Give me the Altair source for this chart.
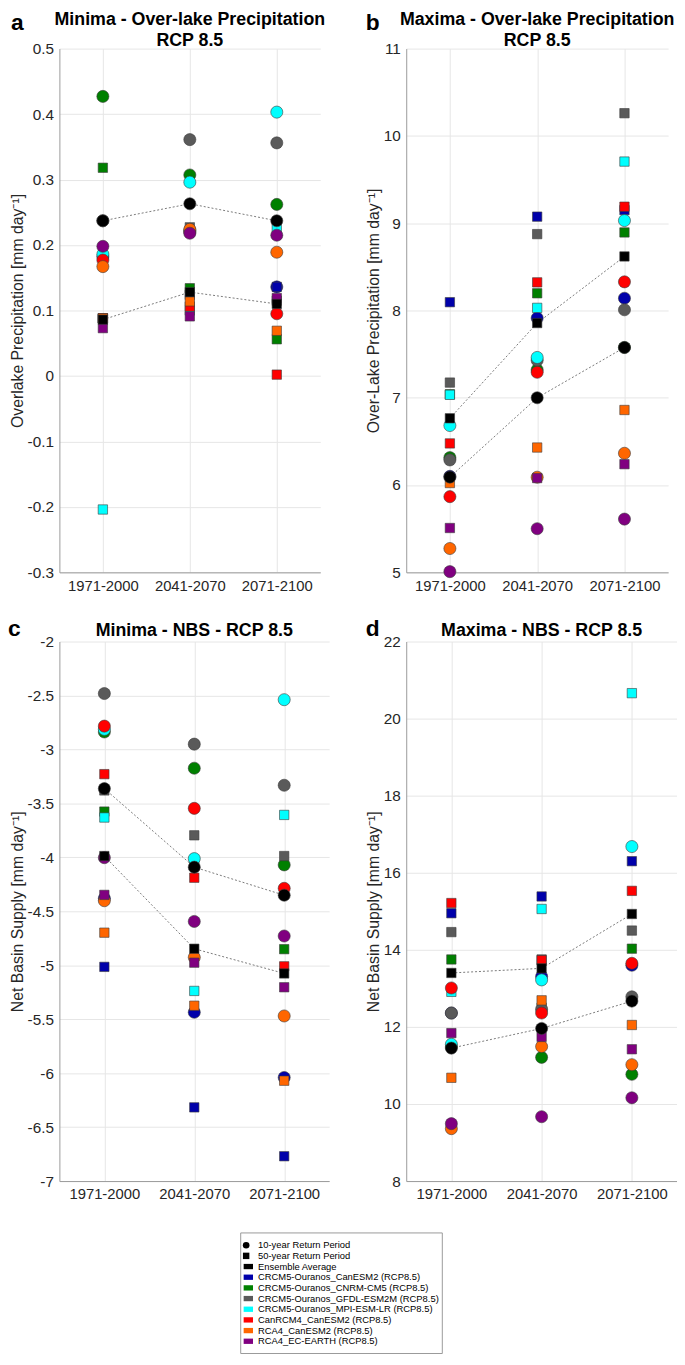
import altair as alt
import pandas as pd

FONT = "Liberation Sans"

PERIODS = ["1971-2000", "2041-2070", "2071-2100"]
MODELS = [
    "CRCM5-Ouranos_CanESM2 (RCP8.5)",
    "CRCM5-Ouranos_CNRM-CM5 (RCP8.5)",
    "CRCM5-Ouranos_GFDL-ESM2M (RCP8.5)",
    "CRCM5-Ouranos_MPI-ESM-LR (RCP8.5)",
    "CanRCM4_CanESM2 (RCP8.5)",
    "RCA4_CanESM2 (RCP8.5)",
    "RCA4_EC-EARTH (RCP8.5)",
]
ENSEMBLE = "Ensemble Average"
SERIES = MODELS + [ENSEMBLE]
COLORS = ["#0000AA", "#008000", "#5A5A5A", "#00FFFF", "#FF0000", "#FF6600", "#800080", "#000000"]
RP = ["10-year Return Period", "50-year Return Period"]

# values per series (order of SERIES), for the three periods
# a: Minima - Over-lake Precipitation
A_10 = [[0.182, 0.222, 0.136], [0.427, 0.307, 0.262], [0.237, 0.361, 0.356], [0.186, 0.296, 0.403],
        [0.177, 0.220, 0.095], [0.167, 0.224, 0.189], [0.198, 0.218, 0.215], [0.237, 0.263, 0.237]]
A_50 = [[0.088, 0.124, 0.136], [0.318, 0.134, 0.056], [0.088, 0.227, 0.115], [-0.204, 0.100, 0.226],
        [0.088, 0.106, 0.002], [0.088, 0.114, 0.069], [0.073, 0.091, 0.119], [0.086, 0.128, 0.110]]
# b: Maxima - Over-lake Precipitation
B_10 = [[6.10, 7.913, 8.14], [6.314, 7.32, 7.576], [6.288, 7.43, 8.008], [6.682, 7.462, 9.03],
        [5.867, 7.292, 8.328], [5.273, 6.09, 6.364], [5.008, 5.50, 5.61], [6.091, 7.00, 7.576]]
B_50 = [[8.095, 9.075, 9.15], [7.04, 8.197, 8.894], [7.174, 8.875, 10.26], [7.034, 8.030, 9.706],
        [6.477, 8.322, 9.189], [6.023, 6.43, 6.86], [5.508, 6.08, 6.239], [6.765, 7.856, 8.619]]
# c: Minima - NBS
C_10 = [[-4.38, -5.436, -6.04], [-2.838, -3.174, -4.07], [-2.482, -2.951, -3.332], [-2.814, -4.012, -2.539],
        [-2.784, -3.546, -4.287], [-4.402, -4.927, -5.47], [-4.003, -4.594, -4.729], [-3.363, -4.091, -4.351]]
C_50 = [[-5.015, -6.317, -6.77], [-3.576, -4.04, -4.851], [-3.38, -3.796, -3.988], [-3.631, -5.238, -3.607],
        [-3.229, -4.189, -5.01], [-4.698, -5.375, -6.07], [-4.348, -4.976, -5.204], [-3.988, -4.847, -5.076]]
# d: Maxima - NBS
D_10 = [[12.36, 13.31, 13.60], [11.48, 11.21, 10.77], [12.36, 12.46, 12.78], [11.55, 13.22, 16.68],
        [13.01, 12.36, 13.65], [9.36, 11.49, 11.02], [9.49, 9.67, 10.16], [11.45, 11.96, 12.67]]
D_50 = [[14.95, 15.385, 16.30], [13.75, 12.50, 14.03], [14.46, 13.75, 14.50], [12.91, 15.06, 20.66],
        [15.214, 13.73, 15.53], [10.68, 12.69, 12.05], [11.84, 11.74, 11.42], [13.40, 13.52, 14.93]]

LEG_ITEMS = RP + SERIES[-1:] + MODELS
LEG_KIND = ["circle", "square"] + ["swatch"] * 8
LEG_KEY = [ENSEMBLE, ENSEMBLE, ENSEMBLE] + MODELS


def build_df(v10, v50):
    rows = []
    k = 0
    for i, s in enumerate(SERIES):
        for rp, vals in ((RP[0], v10[i]), (RP[1], v50[i])):
            for p, v in zip(PERIODS, vals):
                rows.append({"series": s, "rp": rp, "period": p, "value": v, "order": k})
                k += 1
    return pd.DataFrame(rows)


def text_layer(txt, size, dx, dy, align):
    return alt.Chart(pd.DataFrame({"t": [txt]})).mark_text(
        fontSize=size, fontWeight="bold", font=FONT, align=align, baseline="alphabetic", color="#000"
    ).encode(text="t:N", x=alt.value(dx), y=alt.value(dy))


def panel(v10, v50, titles, letter, ytitle, domain, ticks, fmt, w, h, ldx, ldy, tdy):
    df = build_df(v10, v50)
    x = alt.X("period:N", sort=PERIODS, scale=alt.Scale(type="point", padding=0.5),
              axis=alt.Axis(title=None, labelAngle=0, grid=True, labelFontSize=15))
    y = alt.Y("value:Q", scale=alt.Scale(domain=domain, nice=False, zero=False),
              axis=alt.Axis(title=ytitle, values=ticks, format=fmt, grid=True, labelFontSize=15.5,
                            labelExpr="replace(datum.label, '\u2212', '-')"))
    lines = alt.Chart(df).transform_filter(alt.datum.series == ENSEMBLE).mark_line(
        strokeDash=[2, 2], color="#7a7a7a", strokeWidth=1
    ).encode(x=x, y=y, detail="rp:N")
    pts = alt.Chart(df).mark_point(filled=True, opacity=1, stroke="#3c3c3c", strokeWidth=0.6).encode(
        x=x, y=y,
        color=alt.Color("series:N", scale=alt.Scale(domain=SERIES, range=COLORS), legend=None),
        shape=alt.Shape("rp:N", scale=alt.Scale(domain=RP, range=["circle", "square"]), legend=None),
        size=alt.Size("rp:N", scale=alt.Scale(domain=RP, range=[150, 90]), legend=None),
        order=alt.Order("order:Q"),
    )
    layers = [lines, pts, text_layer(letter, 23, ldx, ldy, "left")]
    for t, dy in zip(titles, tdy):
        layers.append(text_layer(t, 18, w / 2, dy, "center"))
    return alt.layer(*layers).properties(width=w, height=h)


YT = "[mm day\u207b\u00b9]"
pa = panel(A_10, A_50, ["Minima - Over-lake Precipitation", "RCP 8.5"], "a",
           "Overlake Precipitation " + YT, [-0.3, 0.5],
           [-0.3, -0.2, -0.1, 0, 0.1, 0.2, 0.3, 0.4, 0.5], ".1~f", 264, 530, -49, -19, [-23.5, -3])
pb = panel(B_10, B_50, ["Maxima - Over-lake Precipitation", "RCP 8.5"], "b",
           "Over-Lake Precipitation " + YT, [5, 11],
           [5, 6, 7, 8, 9, 10, 11], "d", 265, 530, -41, -19, [-23.5, -3])
pc = panel(C_10, C_50, ["Minima - NBS - RCP 8.5"], "c",
           "Net Basin Supply " + YT, [-7, -2],
           [-7, -6.5, -6, -5.5, -5, -4.5, -4, -3.5, -3, -2.5, -2], ".1~f", 273, 546, -52, -6, [-6])
pd_ = panel(D_10, D_50, ["Maxima - NBS - RCP 8.5"], "d",
            "Net Basin Supply " + YT, [8, 22],
            [8, 10, 12, 14, 16, 18, 20, 22], "d", 274, 546, -41, -6, [-6])

ldf = pd.DataFrame({"item": LEG_ITEMS, "kind": LEG_KIND, "key": LEG_KEY})
ly = alt.Y("item:N", sort=LEG_ITEMS, axis=None, scale=alt.Scale(type="point", range=[7.5, 115.5]))
leg_sym = alt.Chart(ldf).mark_point(filled=True, opacity=1, strokeWidth=0).encode(
    x=alt.value(6), y=ly,
    color=alt.Color("key:N", scale=alt.Scale(domain=SERIES, range=COLORS), legend=None),
    shape=alt.Shape("kind:N", scale=alt.Scale(domain=["circle", "square", "swatch"],
                                              range=["circle", "square", "M-0.8,-0.85H2.2V0.85H-0.8Z"]), legend=None),
    size=alt.Size("kind:N", scale=alt.Scale(domain=["circle", "square", "swatch"], range=[45, 40, 100]), legend=None),
)
leg_txt = alt.Chart(ldf).mark_text(align="left", baseline="middle", fontSize=9.5, font=FONT, color="#000").encode(
    x=alt.value(18), y=ly, text="item:N"
)
legend = alt.layer(leg_sym, leg_txt).properties(
    width=204, height=122, view=alt.ViewBackground(stroke="#999999", strokeWidth=1, fill="white")
)
spacer = alt.Chart(pd.DataFrame({"v": [0]})).mark_point(opacity=0).encode(
    x=alt.X("v:Q", axis=None), y=alt.Y("v:Q", axis=None)
).properties(width=183, height=10)

grid = alt.concat(pa, pb, pc, pd_, columns=2, bounds="flush",
                  spacing=alt.RowColnumber(row=70, column=78))
row3 = alt.hconcat(spacer, legend, spacing=0, bounds="flush")

chart = alt.vconcat(grid, row3, spacing=30).resolve_scale(
    color="independent", shape="independent", size="independent"
).properties(
    padding={"left": 0, "top": -5, "right": 0, "bottom": 0}
).configure_view(stroke=None).configure_axis(
    domainColor="#9a9a9a", gridColor="#e6e6e6", labelColor="#262626", titleColor="#262626",
    labelFont=FONT, titleFont=FONT, ticks=False, labelPadding=6, titleFontWeight="normal",
    titleFontSize=16
).configure_axisY(titlePadding=2)

chart.save("out.html", embed_options={"renderer": "svg", "actions": False})
